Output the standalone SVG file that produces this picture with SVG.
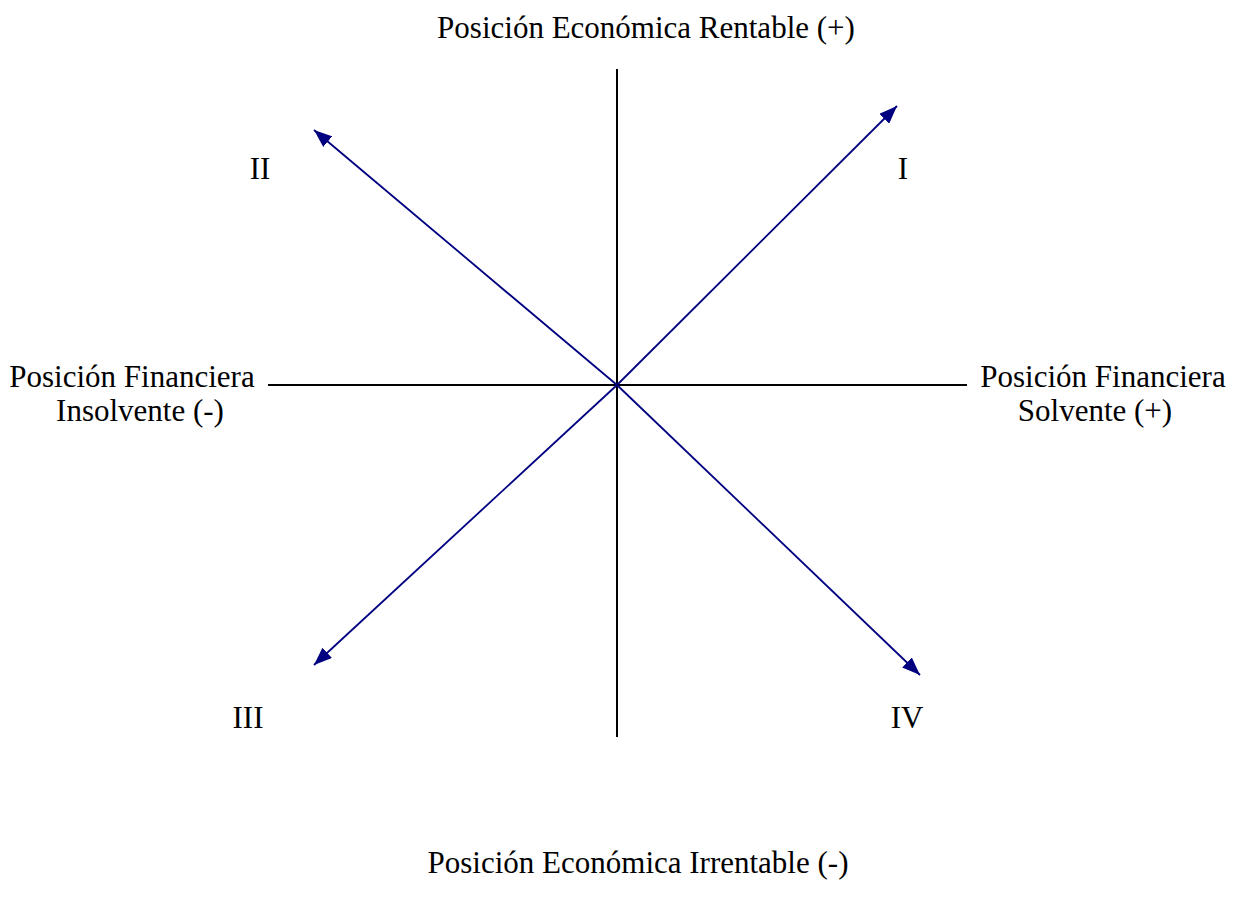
<svg xmlns="http://www.w3.org/2000/svg" width="1238" height="911" viewBox="0 0 1238 911">
<style>
text{font-family:"Liberation Serif","Times New Roman",serif;font-size:31px;fill:#000}
.axis{stroke:#000;stroke-width:2;fill:none}
.arr{stroke:#000080;stroke-width:1.8;fill:none;marker-end:url(#ah)}
</style>
<defs>
<marker id="ah" viewBox="0 0 10 10" refX="10" refY="5" markerWidth="18" markerHeight="14" markerUnits="userSpaceOnUse" orient="auto" preserveAspectRatio="none">
<path d="M0,0 L10,5 L0,10 z" fill="#000080"/>
</marker>
</defs>
<rect width="1238" height="911" fill="#fff"/>
<g id="connectors">
<line class="axis" x1="617" y1="69" x2="617" y2="737"/>
<line class="axis" x1="268" y1="385" x2="967" y2="385"/>
<line class="arr" x1="617" y1="385" x2="897" y2="106"/>
<line class="arr" x1="617" y1="385" x2="314" y2="130"/>
<line class="arr" x1="617" y1="385" x2="314" y2="665"/>
<line class="arr" x1="617" y1="385" x2="920" y2="675"/>
</g>
<g id="top"><text x="646" y="38" text-anchor="middle">Posición Económica Rentable (+)</text></g>
<g id="bottom"><text x="638" y="873" text-anchor="middle">Posición Económica Irrentable (-)</text></g>
<g id="left"><text x="132" y="387" text-anchor="middle">Posición Financiera</text><text x="140" y="421" text-anchor="middle">Insolvente (-)</text></g>
<g id="right"><text x="1103" y="387" text-anchor="middle">Posición Financiera</text><text x="1095" y="421" text-anchor="middle">Solvente (+)</text></g>
<g id="q1"><text x="903" y="179" text-anchor="middle">I</text></g>
<g id="q2"><text x="260" y="179" text-anchor="middle">II</text></g>
<g id="q3"><text x="248" y="728" text-anchor="middle">III</text></g>
<g id="q4"><text x="907" y="728" text-anchor="middle">IV</text></g>
</svg>
